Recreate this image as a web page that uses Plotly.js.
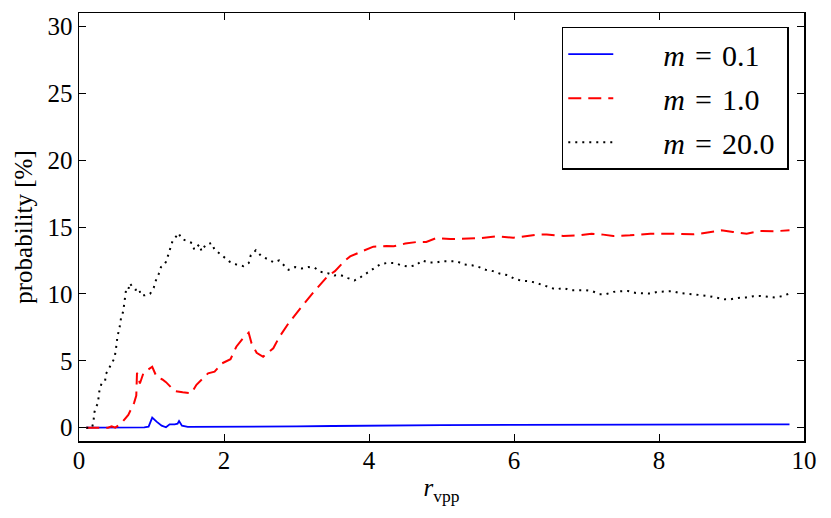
<!DOCTYPE html>
<html>
<head>
<meta charset="utf-8">
<script src="https://cdn.plot.ly/plotly-3.0.1.min.js"></script>
<style>html,body{margin:0;padding:0;background:#fff;}</style>
</head>
<body>
<div id="chart" style="width:831px;height:518px;"></div>
<script>
// m = 0.1 (blue, solid)
const xBlue = [0.1, 0.5, 0.9, 0.96, 1.01, 1.07, 1.14, 1.2, 1.25, 1.32, 1.36, 1.38, 1.42, 1.5, 2.0, 2.5, 3.0, 3.5, 4.0, 5.0, 6.0, 7.0, 8.0, 9.0, 9.8];
const yBlue = [0, 0, 0.02, 0.07, 0.75, 0.45, 0.15, 0.03, 0.25, 0.25, 0.3, 0.5, 0.15, 0.05, 0.05, 0.07, 0.1, 0.12, 0.15, 0.18, 0.2, 0.22, 0.25, 0.25, 0.25];

// m = 1.0 (red, dashed)
const xRed = [0.1, 0.4, 0.45, 0.5, 0.58, 0.63, 0.68, 0.76, 0.79, 0.80, 0.84, 0.89, 0.98, 1.01, 1.07, 1.15, 1.20, 1.32, 1.43, 1.55, 1.62, 1.69, 1.78, 1.87, 1.97, 2.09, 2.17, 2.26, 2.34, 2.38, 2.45, 2.54, 2.68, 2.76, 2.89, 3.05, 3.23, 3.42, 3.53, 3.67, 3.74, 3.92, 4.06, 4.24, 4.34, 4.5, 4.66, 4.79, 4.93, 5.12, 5.39, 5.52, 5.76, 5.99, 6.09, 6.32, 6.45, 6.68, 6.91, 7.07, 7.23, 7.37, 7.6, 7.88, 8.15, 8.47, 8.57, 8.86, 9.02, 9.21, 9.39, 9.58, 9.8];
const yRed = [0, 0, 0.1, 0, 0.3, 0.6, 0.95, 1.85, 2.4, 4.1, 3.3, 4.1, 4.45, 4.55, 3.8, 3.6, 3.4, 2.74, 2.64, 2.57, 3.2, 3.56, 4.06, 4.18, 4.8, 5.12, 6.05, 6.67, 7.1, 6.3, 5.6, 5.3, 5.93, 6.75, 7.8, 8.9, 10.1, 11.27, 11.7, 12.5, 12.8, 13.22, 13.53, 13.58, 13.56, 13.76, 13.88, 13.88, 14.18, 14.1, 14.13, 14.16, 14.3, 14.2, 14.25, 14.43, 14.43, 14.33, 14.38, 14.5, 14.43, 14.33, 14.38, 14.5, 14.5, 14.45, 14.5, 14.75, 14.63, 14.5, 14.7, 14.68, 14.75];

// m = 20.0 (black, dotted)
const xBlack = [0.1, 0.18, 0.20, 0.21, 0.23, 0.26, 0.28, 0.31, 0.36, 0.37, 0.42, 0.45, 0.49, 0.51, 0.53, 0.56, 0.58, 0.61, 0.62, 0.63, 0.65, 0.68, 0.70, 0.74, 0.78, 0.83, 0.85, 0.91, 0.98, 1.03,
  1.06, 1.10, 1.13, 1.16, 1.20, 1.23, 1.26, 1.29, 1.34, 1.37, 1.42, 1.51, 1.56, 1.59, 1.66, 1.69, 1.75, 1.83, 1.87, 1.93,
  2.0, 2.08, 2.17, 2.27, 2.34, 2.37, 2.44, 2.51, 2.6, 2.69, 2.76, 2.83, 2.89, 2.98, 3.07, 3.16, 3.25, 3.33, 3.43, 3.52,
  3.61, 3.71, 3.80, 3.89, 3.98, 4.07, 4.16, 4.26, 4.36, 4.45, 4.54, 4.65, 4.73, 4.83, 4.92, 5.01, 5.12, 5.21, 5.31, 5.42,
  5.52, 5.61, 5.71, 5.81, 5.91, 6.0, 6.09, 6.2, 6.29, 6.39, 6.48, 6.58, 6.68, 6.77, 6.87, 6.98, 7.08, 7.18, 7.27, 7.37,
  7.47, 7.57, 7.68, 7.77, 7.88, 7.98, 8.08, 8.18, 8.28, 8.38, 8.49, 8.59, 8.69, 8.79, 8.90, 8.99, 9.09, 9.2, 9.3, 9.4,
  9.51, 9.6, 9.7, 9.8];
const yBlack = [0, 0, 0.45, 1.1, 1.5, 1.8, 2.7, 3.3, 3.5, 4.0, 4.5, 4.8, 5.2, 5.9, 6.8, 7.5, 8.2, 8.7, 9.2, 9.75, 10.35, 10.3, 10.8, 10.5, 10.3, 10.4, 9.9, 9.9, 10.0, 10.45,
  11.0, 11.5, 12.0, 12.1, 12.4, 12.9, 13.4, 13.95, 14.3, 14.55, 14.1, 13.9, 13.8, 13.3, 13.7, 13.2, 13.7, 13.8, 13.3, 13.06,
  12.75, 12.4, 12.2, 12.07, 12.3, 12.9, 13.26, 12.85, 12.6, 12.35, 12.5, 12.1, 11.8, 12.0, 11.9, 12.0, 11.95, 11.65, 11.55, 11.38,
  11.4, 11.18, 11.0, 11.27, 11.6, 11.92, 12.23, 12.32, 12.3, 12.12, 12.04, 12.14, 12.5, 12.34, 12.34, 12.44, 12.44, 12.44, 12.2, 12.14,
  12.0, 11.8, 11.7, 11.5, 11.4, 11.15, 11.0, 10.95, 10.85, 10.65, 10.48, 10.33, 10.45, 10.28, 10.28, 10.28, 10.2, 9.98, 9.98, 10.15,
  10.2, 10.22, 10.07, 10.03, 10.03, 10.15, 10.2, 10.2, 10.07, 10.03, 9.95, 9.9, 9.83, 9.7, 9.6, 9.6, 9.7, 9.73, 9.83, 9.85,
  9.78, 9.73, 9.83, 10.03];

const mValues = ['0.1', '1.0', '20.0'];
const xTicks = [0, 2, 4, 6, 8, 10];
const yTicks = [0, 5, 10, 15, 20, 25, 30];

const serif = '"Liberation Serif", "DejaVu Serif", serif';
const pad = '\u00a0\u00a0\u00a0\u00a0\u00a0\u00a0';
const label = v => pad + '<i>m</i>\u00a0\u200a=\u00a0\u200a' + v + '\u00a0';

const traces = [
  {x: xBlue, y: yBlue, name: label(mValues[0]), mode: 'lines', legendgroup: 'a',
   line: {color: '#0000ff', width: 1.8}},
  {x: xRed, y: yRed, name: label(mValues[1]), mode: 'lines', legendgroup: 'b',
   line: {color: '#ff0000', width: 2, dash: '13px,7px'}},
  {x: xBlack, y: yBlack, name: label(mValues[2]), mode: 'lines', legendgroup: 'c',
   line: {color: '#000000', width: 2, dash: '2px,5px'}}
];

const axisCommon = {
  showgrid: false, zeroline: false, showline: true, linecolor: '#000', linewidth: 1.5,
  mirror: 'ticks', ticks: 'inside', ticklen: 7, tickwidth: 1, tickcolor: '#000',
  tickfont: {family: serif, size: 25, color: '#000'}
};

const layout = {
  width: 831, height: 518,
  margin: {l: 79, r: 27, t: 13, b: 77},
  paper_bgcolor: '#fff', plot_bgcolor: '#fff',
  showlegend: true,
  xaxis: Object.assign({}, axisCommon, {
    range: [0, 10], tickvals: xTicks, ticktext: xTicks.map(String),
    ticklabelstandoff: -4,
    title: {text: '<i>r</i><sub>vpp</sub>', font: {family: serif, size: 25, color: '#000'}, standoff: 6}
  }),
  yaxis: Object.assign({}, axisCommon, {
    range: [-1, 31], tickvals: yTicks, ticktext: yTicks.map(String),
    title: {text: 'probability [%]', font: {family: serif, size: 25, color: '#000'}, standoff: 8}
  }),
  legend: {
    x: 0.979, xanchor: 'right', y: 0.968, yanchor: 'top',
    bordercolor: '#000', borderwidth: 1.5, bgcolor: '#fff',
    font: {family: serif, size: 30, color: '#000'},
    traceorder: 'grouped', tracegroupgap: 2, itemwidth: 45
  }
};

Plotly.newPlot('chart', traces, layout, {displayModeBar: false, staticPlot: true});
</script>
</body>
</html>
